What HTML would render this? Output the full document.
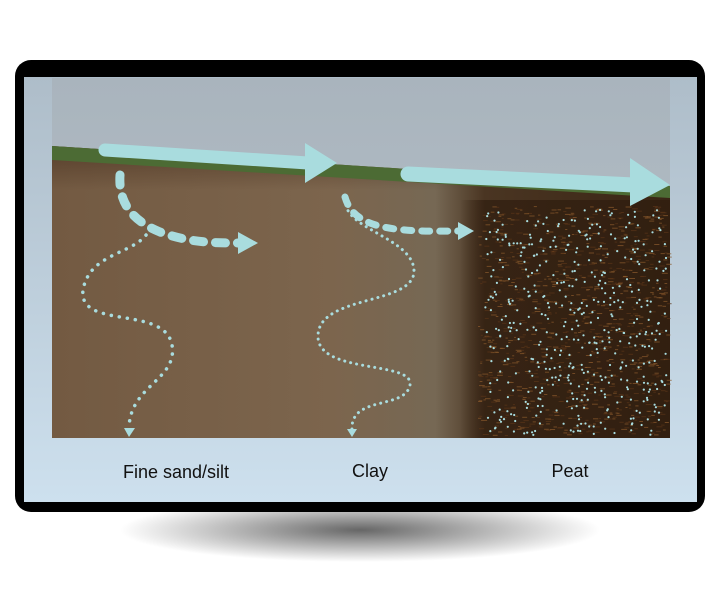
<!DOCTYPE html>
<html><head><meta charset="utf-8"><style>
html,body{margin:0;padding:0;background:#fff;width:720px;height:600px;overflow:hidden}
svg{display:block}
text{font-family:"Liberation Sans",sans-serif}
</style></head><body>
<svg width="720" height="600" viewBox="0 0 720 600" xmlns="http://www.w3.org/2000/svg">
<defs>
<radialGradient id="sh" cx="0.5" cy="0.5" r="0.5">
<stop offset="0" stop-color="#000" stop-opacity="0.6"/>
<stop offset="1" stop-color="#000" stop-opacity="0"/>
</radialGradient>
<linearGradient id="sky" x1="0" y1="0" x2="0" y2="1">
<stop offset="0" stop-color="#a9b4bd"/><stop offset="1" stop-color="#b8c2ca"/>
</linearGradient>
<linearGradient id="scr" x1="0" y1="0" x2="0" y2="1">
<stop offset="0" stop-color="#aebdc9"/><stop offset="1" stop-color="#cde0ee"/>
</linearGradient>
<linearGradient id="soil" x1="0" y1="0" x2="1" y2="0">
<stop offset="0" stop-color="#735a42"/><stop offset="0.45" stop-color="#7c654d"/><stop offset="0.62" stop-color="#766854"/><stop offset="0.7" stop-color="#4a3522"/><stop offset="1" stop-color="#3a2615"/>
</linearGradient>
<linearGradient id="peat" x1="0" y1="0" x2="1" y2="0">
<stop offset="0" stop-color="#2e1c0e" stop-opacity="0"/><stop offset="0.12" stop-color="#2e1c0e" stop-opacity="0.7"/><stop offset="1" stop-color="#2e1c0e" stop-opacity="0.7"/>
</linearGradient>
<linearGradient id="soilv" x1="0" y1="0" x2="0" y2="1">
<stop offset="0" stop-color="#4a3220" stop-opacity="0.7"/><stop offset="0.15" stop-color="#4a3220" stop-opacity="0"/>
</linearGradient>
</defs>
<ellipse cx="360" cy="530" rx="240" ry="32" fill="url(#sh)"/>
<rect x="15" y="60" width="690" height="452" rx="16" fill="#000"/>
<rect x="24" y="77" width="673" height="425" fill="url(#scr)"/>
<rect x="52" y="78" width="618" height="360" fill="url(#sky)"/>
<polygon points="52,146 670,186 670,438 52,438" fill="url(#soil)"/>
<polygon points="460,200 670,200 670,438 460,438" fill="url(#peat)"/>
<polygon points="52,146 670,186 670,438 52,438" fill="url(#soilv)"/>
<polygon points="52,146 670,186 670,198 52,160" fill="#4c6b34"/>
<g id="dots" fill="#a9dde0"></g>
<g fill="none" stroke="#a9dcde" stroke-linecap="round">
<line x1="105" y1="150" x2="308" y2="163" stroke-width="13"/>
<line x1="408" y1="174" x2="634" y2="185" stroke-width="15"/>
<path d="M120,175 C118,205 135,222 160,232 C190,243 215,243 242,243" stroke-width="9" stroke-dasharray="10 12"/>
<path d="M345,197 C350,215 365,225 395,229 C420,232 440,231 460,231" stroke-width="7" stroke-dasharray="8 10"/>
<path d="M150,228 C140,255 90,250 83,290 C78,330 165,305 172,345 C178,380 130,385 129,428" stroke-width="3.5" stroke-dasharray="0.1 8"/>
<path d="M346,205 C350,230 415,240 414,272 C412,305 320,295 318,335 C316,375 414,360 410,385 C405,410 350,395 352,430" stroke-width="3" stroke-dasharray="0.1 6"/>
</g>
<g fill="#a9dcde">
<polygon points="305,143 337,163 305,183"/>
<polygon points="630,158 670,185 630,206"/>
<polygon points="238,232 258,243 238,254"/>
<polygon points="458,222 474,231 458,240"/>
<polygon points="124,428 135,428 129,437"/>
<polygon points="347,429 357,429 352,437"/>
</g>
<text x="176" y="478" font-size="18" text-anchor="middle" fill="#111">Fine sand/silt</text>
<text x="370" y="477" font-size="18" text-anchor="middle" fill="#111">Clay</text>
<text x="570" y="477" font-size="18" text-anchor="middle" fill="#111">Peat</text>
</svg>
<script>
var g=document.getElementById('dots'),s=7,h='';
function r(){s=(s*16807)%2147483647;return s/2147483647;}
for(var i=0;i<1100;i++){var x=478+r()*190,y=206+r()*230;h+='<rect x="'+x.toFixed(1)+'" y="'+y.toFixed(1)+'" width="'+(2+r()*4).toFixed(1)+'" height="1" fill="'+(r()<0.5?'#8a5a2c':'#5a3418')+'" opacity="0.7"/>';}
for(var i=0;i<480;i++){var x=485+r()*182,y=210+r()*225;h+='<circle cx="'+x.toFixed(1)+'" cy="'+y.toFixed(1)+'" r="1.1"/>';}
g.innerHTML=h;
</script>
</body></html>
